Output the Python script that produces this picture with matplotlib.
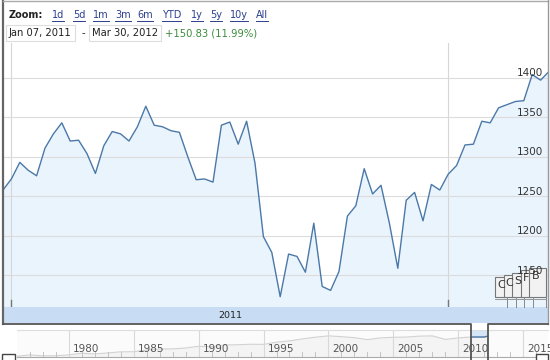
import matplotlib
matplotlib.use("Agg")
import matplotlib.pyplot as plt
import matplotlib.transforms as mtransforms
from matplotlib.patches import Rectangle
import pandas as pd

# weekly closes, Dec 31 2010 .. Mar 30 2012
dates = pd.date_range("2010-12-31", "2012-03-30", freq="W-FRI")
close = [1258, 1272, 1293, 1283, 1276, 1311, 1329, 1343, 1320, 1321,
         1304, 1279, 1314, 1332, 1329, 1320, 1338, 1364, 1340, 1338,
         1333, 1331, 1300, 1271, 1272, 1268, 1340, 1344, 1316, 1345,
         1292, 1199, 1179, 1123, 1177, 1174, 1154, 1216, 1136, 1131,
         1155, 1225, 1238, 1285, 1253, 1264, 1216, 1159, 1245, 1255,
         1219, 1265, 1258, 1278, 1289, 1315, 1316, 1345, 1343, 1362,
         1366, 1370, 1371, 1404, 1397, 1408]
yticks = [1150, 1200, 1250, 1300, 1350, 1400]

# navigator (long history, faint)
nav_years = list(range(1976, 2013)) + [2012.25]
nav_vals = [90, 107, 95, 96, 108, 136, 123, 141, 165, 167, 211, 242, 247,
            278, 353, 330, 417, 436, 466, 459, 616, 741, 970, 1229, 1469,
            1320, 1148, 880, 1112, 1212, 1248, 1418, 1468, 903, 1115, 1258,
            1258, 1408]
nav_labels = [1980, 1985, 1990, 1995, 2000, 2005, 2010, 2015]
window = (2011.0, 2012.25)

zoom_links = ["1d", "5d", "1m", "3m", "6m", "YTD", "1y", "5y", "10y", "All"]
range_from = "Jan 07, 2011"
range_to = "Mar 30, 2012"
change_text = "+150.83 (11.99%)"
flags = ["C", "C", "S", "F", "B"]

W, H = 550, 360
line_c = "#4a78a8"
fill_c = "#eaf4fd"
band_c = "#c8ddf3"
plt.rcParams["font.family"] = ["DejaVu Sans"]

fig = plt.figure(figsize=(5.5, 3.6), dpi=100)


def box(x0, y0, x1, y1):
    # pixel box (y down) -> figure fraction rect
    return [x0 / W, 1 - y1 / H, (x1 - x0) / W, (y1 - y0) / H]


# main chart
ax = fig.add_axes(box(3, 43, 549, 307))
ax.fill_between(dates, close, 1000, color=fill_c, lw=0, zorder=1)
ax.plot(dates, close, color=line_c, lw=1.0, zorder=3)
ax.set_xlim(dates[0], dates[-1])
ax.set_ylim(1110, 1444)
ax.set_yticks(yticks)
ax.set_xticks([])
ax.yaxis.grid(True, color="#dcdcdc", lw=0.8)
ax.set_axisbelow(False)
ax.tick_params(length=0, labelleft=False)
for s in ax.spines.values():
    s.set_visible(False)

year_starts = [d for i, d in enumerate(dates) if i > 0 and d.year != dates[i - 1].year]
for d in year_starts:
    ax.axvline(d, color="#d6d6d6", lw=0.8, zorder=2)
    ax.axvline(d, ymin=0, ymax=7 / 264, color="#777777", lw=1.0, zorder=4)

# year band
axb = fig.add_axes(box(3, 307, 549, 323))
axb.set_facecolor(band_c)
axb.set_xlim(dates[0], dates[-1])
axb.set_ylim(0, 1)
axb.set_xticks([])
axb.set_yticks([])
for s in axb.spines.values():
    s.set_visible(False)
for a, b in zip(year_starts[:-1], year_starts[1:]):
    axb.text(a + (b - a) / 2, 0.45, str(a.year), ha="center", va="center",
             fontsize=6.8, color="#222222")

# navigator
axn = fig.add_axes(box(16.7, 330, 548, 357))
axn.set_facecolor("#fbfbfb")
axn.set_xlim(1976.0, 2016.9)
axn.set_yscale("log")
axn.set_ylim(81, 3290)
axn.fill_between(nav_years, nav_vals, 10, color="#f4f4f4", lw=0)
axn.plot(nav_years, nav_vals, color="#d2d2d2", lw=0.8)
wx = [y for y in nav_years if window[0] <= y <= window[1]]
wv = [v for y, v in zip(nav_years, nav_vals) if window[0] <= y <= window[1]]
axn.fill_between(wx, wv, 5000, color="#d3e5f7", lw=0)
axn.plot(wx, wv, color=line_c, lw=1.0)
axn.set_xticks([])
axn.set_yticks([])
axn.minorticks_off()
for yr in range(1977, 2017):
    axn.axvline(yr, ymin=0, ymax=5 / 27, color="#c4c4c4", lw=0.7)
lab_off = mtransforms.offset_copy(axn.get_xaxis_transform(), fig=fig, x=4, y=0, units="dots")
for yr in nav_labels:
    axn.axvline(yr, color="#d8d8d8", lw=0.8)
    axn.text(yr, 0.3, str(yr), transform=lab_off, ha="left", va="center",
             fontsize=7.5, color="#555555")
for side in ["left", "right"]:
    axn.spines[side].set_visible(False)
axn.spines["top"].set_color("#dddddd")
axn.spines["bottom"].set_color("#aaaaaa")

# overlay in pixel coords (y down)
ov = fig.add_axes([0, 0, 1, 1])
ov.set_xlim(0, W)
ov.set_ylim(H, 0)
ov.axis("off")
ov.patch.set_alpha(0)
ov.set_zorder(10)

# toolbar
ov.text(9, 15, "Zoom:", fontsize=7, fontweight="bold", color="#222222", va="center")
link_x = [52, 73, 93, 115, 137, 162, 191, 210, 230, 256]
link_texts = []
for lx, lab in zip(link_x, zoom_links):
    link_texts.append(ov.text(lx, 15, lab, fontsize=7, color="#2b3f8f", va="center"))
ov.text(9, 33, range_from, fontsize=7.2, color="#222222", va="center",
        bbox=dict(boxstyle="square,pad=0.3", fc="white", ec="#dddddd", lw=0.8))
ov.text(83, 33, "-", fontsize=7.2, color="#222222", va="center", ha="center")
ov.text(92, 33, range_to, fontsize=7.2, color="#222222", va="center",
        bbox=dict(boxstyle="square,pad=0.3", fc="white", ec="#dddddd", lw=0.8))
ov.text(165, 33, change_text, fontsize=7.2, color="#3d8b3d", va="center")

# news flags
for i, lab in enumerate(flags):
    x0 = 495 + 8.6 * i
    w = 17 if i == len(flags) - 1 else 12
    top = 277 - 2.2 * i
    ov.add_patch(Rectangle((x0, top), w, 297 - top, fc="#f2f2f2", ec="#777777", lw=0.8))
    ov.plot([x0, x0 + w], [299, 299], color="#999999", lw=0.7)
    ov.plot([x0 + w, x0 + w], [297, 307], color="#888888", lw=0.7)
    ov.text(x0 + 2, top + 8, lab, fontsize=8, color="#333333", va="center")

# price labels inside the chart, right side
for v in yticks:
    yp = H - ax.transData.transform((0, v))[1]
    ov.text(543, yp - 1.5, str(v), fontsize=7.5, color="#333333", ha="right", va="baseline")

# frame with navigator window notch
wx0 = axn.transData.transform((window[0], 100))[0]
wx1 = axn.transData.transform((window[1], 100))[0]
ov.plot([3, 3], [0, 324], color="#666666", lw=1.6)
ov.plot([3, 548], [0.5, 0.5], color="#aaaaaa", lw=1.0)
ov.plot([548, 548], [0, 324], color="#999999", lw=1.0)
ov.plot([3, wx0, wx0], [324, 324, H], color="#555555", lw=1.3)
ov.plot([wx1, wx1, 548], [H, 324, 324], color="#555555", lw=1.3)
ov.add_patch(Rectangle((2, 354), 13, 7, fc="white", ec="#444444", lw=1.0))
ov.add_patch(Rectangle((536, 354), 12, 7, fc="white", ec="#444444", lw=1.0))

# underline zoom links
fig.canvas.draw()
r = fig.canvas.get_renderer()
for t in link_texts:
    e = t.get_window_extent(r)
    ov.plot([e.x0, e.x1], [20.5, 20.5], color="#2b3f8f", lw=0.7)

fig.savefig("out.png", dpi=100)
